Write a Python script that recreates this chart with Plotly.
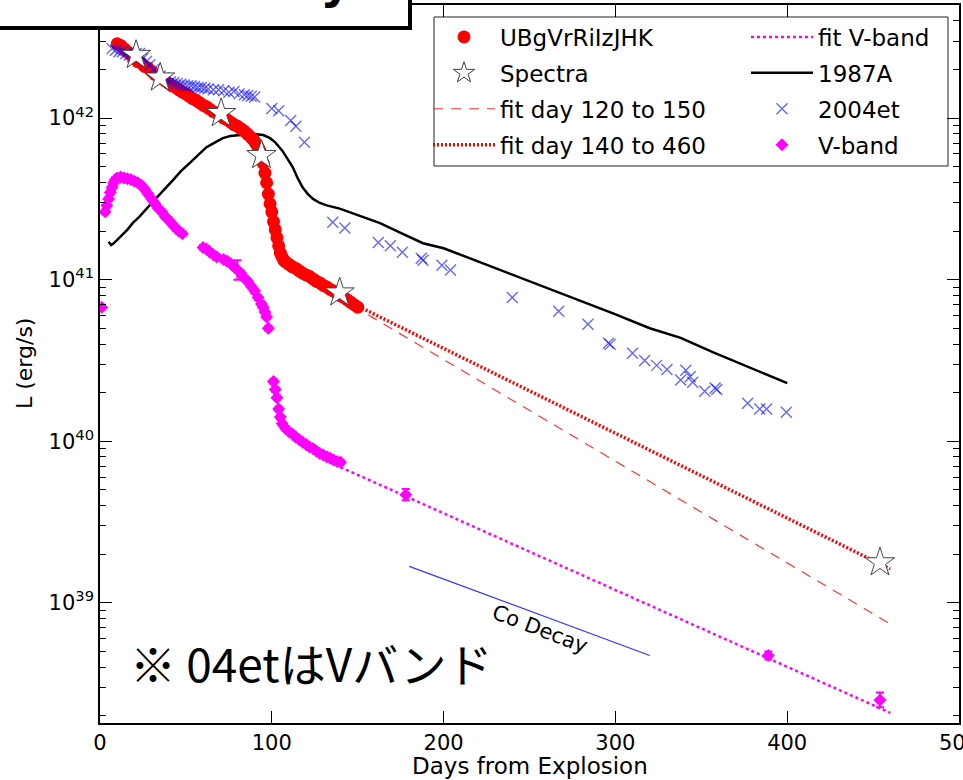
import plotly.graph_objects as go
import numpy as np

# ---------------- data (luminosities as log10 L) ----------------
ubg_day = [10, 12, 14, 16, 18, 20, 22, 24, 26, 28, 30, 32, 34, 36, 38, 40, 42, 44, 46, 48,
           50, 52, 54, 56, 58, 60, 62, 64, 66, 68, 70, 72, 74, 76, 78, 80, 82, 84, 86, 88,
           89, 90, 91, 92, 93, 94, 95, 96, 97, 98, 99, 100, 101, 102, 103, 104, 105, 106, 107, 108,
           110, 112, 114, 116, 118, 120, 122, 124, 126, 128, 130, 132, 134, 136, 138, 140, 142, 144, 146, 148, 150]
ubg_logL = [42.46, 42.45, 42.43, 42.41, 42.39, 42.37, 42.35, 42.34, 42.32, 42.31, 42.29, 42.27, 42.26, 42.245, 42.23, 42.215, 42.20, 42.19, 42.175, 42.16,
            42.15, 42.135, 42.12, 42.11, 42.095, 42.08, 42.07, 42.055, 42.04, 42.03, 42.015, 42.0, 41.99, 41.975, 41.96, 41.95, 41.935, 41.92, 41.90, 41.88,
            41.87, 41.855, 41.84, 41.82, 41.80, 41.77, 41.72, 41.66, 41.60, 41.53, 41.47, 41.42, 41.36, 41.31, 41.26, 41.21, 41.165, 41.14, 41.12, 41.11,
            41.095, 41.08, 41.07, 41.055, 41.04, 41.03, 41.02, 41.005, 40.99, 40.98, 40.965, 40.955, 40.94, 40.93, 40.915, 40.90, 40.89, 40.875, 40.86, 40.845, 40.83]

spec_day = [21, 35, 70.5, 94, 139.5, 454]
spec_logL = [42.39, 42.25, 42.03, 41.77, 40.92, 39.25]

fit120_day = [120, 460]
fit120_logL = [41.01, 38.87]

fit140_day = [140, 460]
fit140_logL = [40.89, 39.21]

fitV_day = [140, 460]
fitV_logL = [39.84, 38.32]

sn87_day = [5, 6.5, 8, 10, 13, 16, 19, 23, 28, 33, 38, 42.5, 47, 52, 57, 62, 67, 71.5, 76, 81,
            86, 91, 95, 99, 102, 106, 109, 112, 115, 118, 121, 124, 128, 132, 139.5, 150, 163, 175, 188, 200,
            221, 240, 260, 280, 299, 320, 338, 357, 380, 400]
sn87_logL = [41.235, 41.215, 41.225, 41.245, 41.28, 41.31, 41.35, 41.39, 41.45, 41.51, 41.565, 41.616, 41.67, 41.72, 41.77, 41.82, 41.85, 41.876, 41.89, 41.895,
             41.90, 41.90, 41.895, 41.876, 41.85, 41.80, 41.75, 41.70, 41.63, 41.57, 41.53, 41.50, 41.475, 41.46, 41.44, 41.40, 41.35, 41.29, 41.226, 41.195,
             41.11, 41.03, 40.95, 40.87, 40.79, 40.70, 40.64, 40.55, 40.45, 40.36]

et_day = [7, 9, 11, 13, 15, 17, 19, 21, 23, 25, 27, 29, 31, 33, 35, 37, 39, 41, 43, 45,
          47, 49, 51, 53, 55, 57, 59, 61, 63, 66, 69, 72, 75, 78, 81, 84, 86, 88, 90, 100,
          104, 111, 114, 119, 135.5, 142.5, 162, 169, 176, 187, 188, 199, 204, 240, 267, 284, 296, 297, 310, 317,
          324, 330, 338, 341, 343.5, 345, 352, 358, 359, 377, 384, 388, 399.5]
et_logL = [42.43, 42.42, 42.41, 42.41, 42.40, 42.39, 42.38, 42.40, 42.40, 42.37, 42.35, 42.33, 42.30, 42.28, 42.26, 42.25, 42.24, 42.225, 42.22, 42.215,
           42.21, 42.205, 42.20, 42.20, 42.195, 42.19, 42.19, 42.185, 42.18, 42.175, 42.175, 42.17, 42.16, 42.165, 42.15, 42.145, 42.14, 42.135, 42.13, 42.06,
           42.045, 41.985, 41.95, 41.85, 41.356, 41.32, 41.23, 41.21, 41.17, 41.133, 41.12, 41.09, 41.06, 40.89, 40.805, 40.725, 40.607, 40.60, 40.545, 40.50,
           40.47, 40.445, 40.38, 40.44, 40.40, 40.365, 40.31, 40.33, 40.32, 40.235, 40.20, 40.20, 40.18]

vb_day = [1, 3, 4, 5, 6, 7, 8, 9, 10, 12, 14, 16, 18, 20, 22, 24, 26, 28, 30, 32,
          34, 36, 38, 40, 42, 44, 46, 48, 60, 62, 64, 66, 68, 72, 74, 76, 78, 80, 82, 84,
          86, 88, 90, 92, 94, 95, 96, 97, 98, 101, 102, 103, 104, 105, 106, 108, 110, 112, 114, 116,
          118, 120, 122, 124, 126, 128, 130, 132, 134, 136, 138, 140, 178, 389, 454]
vb_logL = [40.83, 41.42, 41.46, 41.50, 41.54, 41.57, 41.60, 41.62, 41.63, 41.635, 41.63, 41.625, 41.62, 41.61, 41.60, 41.585, 41.56, 41.53, 41.50, 41.47,
           41.44, 41.42, 41.39, 41.37, 41.345, 41.32, 41.30, 41.285, 41.20, 41.19, 41.17, 41.155, 41.14, 41.125, 41.115, 41.10, 41.08, 41.06, 41.04, 41.01,
           40.99, 40.96, 40.93, 40.89, 40.85, 40.83, 40.80, 40.77, 40.70, 40.37, 40.32, 40.27, 40.20, 40.15, 40.11, 40.08, 40.06, 40.045, 40.025, 40.01,
           39.995, 39.98, 39.965, 39.955, 39.94, 39.925, 39.915, 39.905, 39.895, 39.885, 39.875, 39.87, 39.67, 38.675, 38.40]
vb_err = [0.015] * 37 + [0.06] + [0.015] * 34 + [0.035, 0.025, 0.045]

co_day = [180, 320]
co_logL = [39.226, 38.675]

y_tick_exp = [39, 40, 41, 42]
x_ticks = [0, 100, 200, 300, 400, 500]

# ---------------- figure ----------------
FONT = "DejaVu Sans"
PW, PH = 859, 718   # plot-area size in px (for paper-coordinate helpers)


def L(a):
    return [float(10.0 ** v) for v in a]


def px_x(p):
    return (p - 100) / PW


def px_y(p):
    return 1 - (p - 5) / PH


fig = go.Figure()

fig.add_trace(go.Scatter(x=sn87_day, y=L(sn87_logL), mode="lines", name="1987A",
                         line=dict(color="black", width=2.5),
                         legend="legend2", legendrank=2, legendgroup="g6"))
fig.add_trace(go.Scatter(x=co_day, y=L(co_logL), mode="lines", showlegend=False,
                         line=dict(color="#3333ff", width=1.2)))
fig.add_trace(go.Scatter(x=fitV_day, y=L(fitV_logL), mode="lines", name="fit V-band",
                         line=dict(color="#ff00ff", width=2.5, dash="dot"),
                         legend="legend2", legendrank=1, legendgroup="g5"))
vy = np.array(L(vb_logL))
verr = np.array(vb_err)
fig.add_trace(go.Scatter(x=vb_day, y=vy.tolist(), mode="markers", name="V-band",
                         marker=dict(symbol="diamond", size=10, color="#ff00ff"),
                         error_y=dict(type="data", symmetric=False,
                                      array=(vy * (10.0 ** verr - 1)).tolist(),
                                      arrayminus=(vy * (1 - 10.0 ** -verr)).tolist(),
                                      color="#ff00ff", thickness=2, width=4),
                         legend="legend2", legendrank=4, legendgroup="g8"))
fig.add_trace(go.Scatter(x=fit120_day, y=L(fit120_logL), mode="lines", name="fit day 120 to 150",
                         line=dict(color="#ff3333", width=1.2, dash="10px,8px"),
                         legend="legend", legendrank=3, legendgroup="g3"))
fig.add_trace(go.Scatter(x=fit140_day, y=L(fit140_logL), mode="lines", name="fit day 140 to 460",
                         line=dict(color="#ff0000", width=3.5, dash="2px,2px"),
                         legend="legend", legendrank=4, legendgroup="g4"))
fig.add_trace(go.Scatter(x=ubg_day, y=L(ubg_logL), mode="markers", name="UBgVrRiIzJHK",
                         marker=dict(symbol="circle", size=13, color="#ff0000", line=dict(width=0)),
                         legend="legend", legendrank=1, legendgroup="g1"))
fig.add_trace(go.Scatter(x=et_day, y=L(et_logL), mode="markers", name="2004et",
                         marker=dict(symbol="x-thin", size=11, color="rgba(0,0,255,0.6)",
                                     line=dict(color="rgba(0,0,255,0.6)", width=1.4)),
                         legend="legend2", legendrank=3, legendgroup="g7"))
fig.add_trace(go.Scatter(x=spec_day, y=L(spec_logL), mode="markers", name="Spectra",
                         marker=dict(symbol="star", size=22, color="white",
                                     line=dict(color="#444444", width=1)),
                         legend="legend", legendrank=2, legendgroup="g2"))

minor_vals = [float(m * 10.0 ** e) for e in range(38, 43) for m in range(2, 10)]

leg_common = dict(orientation="v", xanchor="left", yanchor="top",
                  bgcolor="rgba(0,0,0,0)", borderwidth=0,
                  font=dict(family=FONT, size=23, color="black"),
                  itemwidth=62, traceorder="grouped", tracegroupgap=3)

fig.update_layout(
    width=963, height=780,
    margin=dict(l=100, r=4, t=5, b=57, autoexpand=False),
    paper_bgcolor="white", plot_bgcolor="white",
    font=dict(family=FONT, size=21, color="black"),
    showlegend=True,
    legend=dict(x=px_x(428), y=px_y(15.5), **leg_common),
    legend2=dict(x=px_x(746), y=px_y(15.5), **leg_common),
    xaxis=dict(range=[0, 500], tickvals=x_ticks, ticks="inside", ticklen=12, tickwidth=1,
               tickcolor="black", showline=True, linecolor="black", linewidth=1.5,
               mirror="ticks", showgrid=False, zeroline=False, automargin=False,
               tickfont=dict(family=FONT, size=21), ticklabeloverflow="allow"),
    yaxis=dict(type="log", range=[38.257, 42.70],
               tickvals=[float(10.0 ** e) for e in y_tick_exp],
               ticktext=[f"10<sup>{e}</sup>" for e in y_tick_exp],
               ticks="inside", ticklen=12, tickwidth=1, tickcolor="black",
               showline=True, linecolor="black", linewidth=1.5, mirror="ticks",
               showgrid=False, zeroline=False, automargin=False,
               tickfont=dict(family=FONT, size=21),
               minor=dict(tickvals=minor_vals, ticks="inside", ticklen=6, tickcolor="black",
                          tickwidth=1, showgrid=False)),
)

# legend frame (the two legend columns sit inside it)
fig.add_shape(type="rect", xref="paper", yref="paper",
              x0=px_x(434), x1=px_x(948), y0=px_y(166), y1=px_y(17),
              line=dict(color="#222222", width=1), fillcolor="white", layer="below")

# axis titles
fig.add_annotation(text="Days from Explosion", xref="paper", yref="paper",
                   x=0.5, y=px_y(766), xanchor="center", yanchor="middle", showarrow=False,
                   font=dict(family=FONT, size=23))
fig.add_annotation(text="L (erg/s)", xref="paper", yref="paper",
                   x=px_x(24), y=0.5, xanchor="center", yanchor="middle", showarrow=False,
                   textangle=-90, font=dict(family=FONT, size=22))

# Co decay label (log axis: annotation y given as log10)
fig.add_annotation(text="Co Decay", x=256, y=38.84, xref="x", yref="y",
                   showarrow=False, textangle=21, font=dict(family=FONT, size=21))

# Japanese note
fig.add_annotation(text="※ 04etはVバンド", xref="paper", yref="paper",
                   x=px_x(311), y=px_y(662), xanchor="center", yanchor="middle",
                   showarrow=False, font=dict(family="Noto Sans CJK JP", size=46, color="black"))

# cut-off title box at the top
fig.add_shape(type="rect", xref="paper", yref="paper",
              x0=px_x(-10), x1=px_x(410), y0=px_y(28), y1=px_y(-20),
              line=dict(color="black", width=4), fillcolor="white", layer="above")
fig.add_annotation(text="<b>Luminosity</b>", xref="paper", yref="paper",
                   x=px_x(354), y=px_y(11.5), xanchor="right", yanchor="bottom",
                   showarrow=False, font=dict(family=FONT, size=48, color="black"))

fig.write_html("out.html")
